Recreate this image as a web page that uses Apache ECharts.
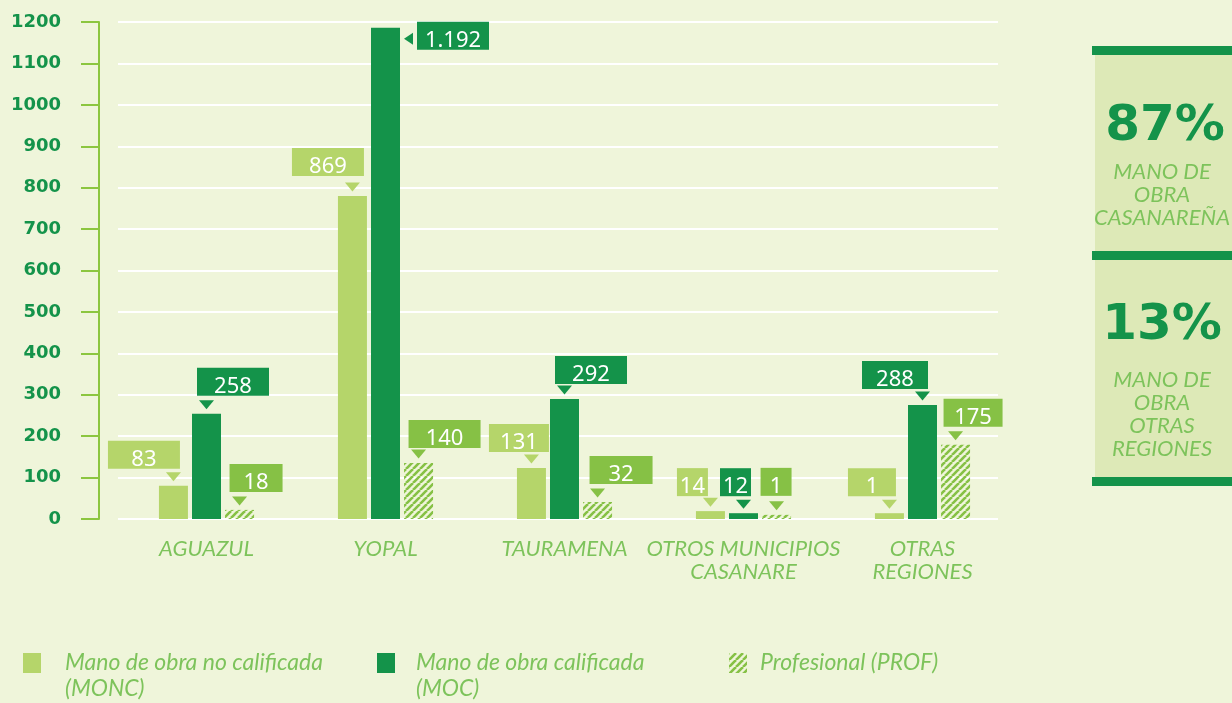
<!DOCTYPE html>
<html>
<head>
<meta charset="utf-8">
<style>
	html, body { margin: 0; padding: 0; background: #eff5da; }
	#chart { width: 1232px; height: 703px; }
</style>
<script src="https://cdn.jsdelivr.net/npm/echarts@6/dist/echarts.min.js"></script>
</head>
<body>
<div id="chart"></div>
<script>
const categories = ['AGUAZUL', 'YOPAL', 'TAURAMENA', 'OTROS MUNICIPIOS\nCASANARE', 'OTRAS\nREGIONES'];
const seriesNames = ['Mano de obra no calificada\n(MONC)', 'Mano de obra calificada\n(MOC)', 'Profesional (PROF)'];
const moncValues = [80, 780, 123, 19, 14];
const mocValues = [254, 1186, 290, 14, 275];
const profValues = [22, 135, 41, 10, 179];
const moncTags = ['83', '869', '131', '14', '1'];
const mocTags = ['258', '1.192', '292', '12', '288'];
const profTags = ['18', '140', '32', '1', '175'];
const shareValues = ['87%', '13%'];
const shareCaptions = ['MANO DE\nOBRA\nCASANAREÑA', 'MANO DE\nOBRA\nOTRAS\nREGIONES'];

/* cajas de etiqueta: ancho, desplazamiento x, separación sobre la barra */
const moncTagBox = [[72, -29.5, 17], [72, -24.5, 20], [60, -12.5, 16], [31, -18, 15], [48, -17.5, 17]];
const mocTagBox = [[72, 26.5, 18], [72, 67.5, -22], [72, 26.5, 15], [31, -8, 17], [66, -27.5, 16]];
const profTagBox = [[53, 16.5, 18], [72, 26, 15], [63, 23.5, 18], [31, -0.5, 19], [59, 17.5, 18]];

document.addEventListener('DOMContentLoaded', () => {
	const LIGHT = '#b5d56a';
	const DARK = '#14934a';
	const MID = '#86c145';
	const TEXT = '#7dc35b';

	/* rayado del profesional */
	const hatch = (() => {
		const c = document.createElement('canvas');
		c.width = c.height = 7;
		const ctx = c.getContext('2d');
		ctx.strokeStyle = MID;
		ctx.lineWidth = 2.6;
		[-7, 0, 7].forEach(o => {
			ctx.beginPath();
			ctx.moveTo(o, 7);
			ctx.lineTo(o + 7, 0);
			ctx.stroke();
		});
		return c;
	})();

	const makeSeries = (name, values, tags, boxes, fill, tagColor) => ({
		name,
		type: 'bar',
		xAxisIndex: 1,
		yAxisIndex: 1,
		barWidth: 29,
		barGap: '14%',
		itemStyle: { color: fill },
		label: {
			show: true,
			position: 'top',
			distance: 0,
			color: '#ffffff',
			backgroundColor: tagColor,
			fontFamily: 'Noto Sans',
			fontSize: 22,
			lineHeight: 19,
			padding: [9, 0, 0, 0],
			align: 'center',
			formatter: p => tags[p.dataIndex]
		},
		data: values.map((v, i) => ({
			value: v,
			label: { width: boxes[i][0], offset: [boxes[i][1], -boxes[i][2]] }
		})),
		markPoint: {
			silent: true,
			symbol: 'triangle',
			symbolSize: [15, 9],
			symbolRotate: 180,
			symbolOffset: [0, -9],
			itemStyle: { color: tagColor },
			label: { show: false },
			data: values.map((v, i) => boxes[i][2] < 0
				? { coord: [i, v], symbolRotate: 90, symbolSize: [12, 9], symbolOffset: [23, 11] }
				: { coord: [i, v] })
		}
	});

	const legendBase = {
		orient: 'horizontal',
		padding: 0,
		icon: 'rect',
		itemWidth: 18,
		itemHeight: 20,
		selectedMode: false
	};
	const legendText = pad => ({
		color: TEXT,
		fontFamily: 'Lato',
		fontStyle: 'italic',
		fontSize: 23,
		lineHeight: 26,
		padding: pad
	});
	/* línea vacía arriba para que la primera línea quede a la altura del icono */
	const twoLines = name => '\n' + name;

	const chart = echarts.init(document.getElementById('chart'));
	chart.setOption({
		animation: false,
		backgroundColor: '#eff5da',
		grid: [
			{ left: 118, right: 234, top: 22, bottom: 184 },
			{ left: 117, right: 220, top: 22, bottom: 184 }
		],
		xAxis: [
			{ gridIndex: 0, type: 'category', data: categories, show: false },
			{
				gridIndex: 1,
				type: 'category',
				data: categories,
				axisLine: { show: false },
				axisTick: { show: false },
				splitLine: { show: false },
				axisLabel: {
					interval: 0,
					margin: 18,
					color: TEXT,
					fontFamily: 'Lato',
					fontStyle: 'italic',
					fontSize: 22,
					lineHeight: 23
				}
			}
		],
		yAxis: [
			{
				gridIndex: 0,
				type: 'value',
				min: 0,
				max: 1200,
				interval: 100,
				offset: 19,
				axisLine: { show: true, lineStyle: { color: '#8cc63f', width: 2 } },
				axisTick: { show: true, length: 18, lineStyle: { color: '#8cc63f', width: 2 } },
				axisLabel: {
					margin: 38,
					color: DARK,
					fontFamily: 'DejaVu Sans',
					fontWeight: 'bold',
					fontSize: 18,
					formatter: v => String(v)
				},
				splitLine: { lineStyle: { color: '#ffffff', width: 2 } }
			},
			{ gridIndex: 1, type: 'value', min: 0, max: 1200, show: false }
		],
		legend: [
			Object.assign({ data: [seriesNames[0]], left: 23, top: 624, formatter: twoLines, textStyle: legendText([0, 0, 0, 19]) }, legendBase),
			Object.assign({ data: [seriesNames[1]], left: 377, top: 624, formatter: twoLines, textStyle: legendText([0, 0, 0, 16]) }, legendBase),
			Object.assign({ data: [seriesNames[2]], left: 729, top: 650, textStyle: legendText([0, 0, 0, 8]) }, legendBase)
		],
		series: [
			makeSeries(seriesNames[0], moncValues, moncTags, moncTagBox, LIGHT, LIGHT),
			makeSeries(seriesNames[1], mocValues, mocTags, mocTagBox, DARK, DARK),
			makeSeries(seriesNames[2], profValues, profTags, profTagBox, { image: hatch, repeat: 'repeat' }, MID)
		],
		graphic: [
			{ type: 'rect', shape: { x: 1095, y: 55, width: 137, height: 422 }, style: { fill: '#dde9b7' } },
			{ type: 'rect', shape: { x: 1092, y: 46, width: 140, height: 9 }, style: { fill: DARK } },
			{ type: 'rect', shape: { x: 1092, y: 251, width: 140, height: 9 }, style: { fill: DARK } },
			{ type: 'rect', shape: { x: 1092, y: 477, width: 140, height: 9 }, style: { fill: DARK } },
			{
				type: 'text', x: 1165, y: 127,
				style: { text: shareValues[0], align: 'center', verticalAlign: 'middle', fill: DARK, fontFamily: 'DejaVu Sans', fontWeight: 'bold', fontSize: 50 }
			},
			{
				type: 'text', x: 1162, y: 160,
				style: { text: shareCaptions[0], align: 'center', verticalAlign: 'top', fill: TEXT, fontFamily: 'Lato', fontStyle: 'italic', fontSize: 22, lineHeight: 23 }
			},
			{
				type: 'text', x: 1162, y: 326,
				style: { text: shareValues[1], align: 'center', verticalAlign: 'middle', fill: DARK, fontFamily: 'DejaVu Sans', fontWeight: 'bold', fontSize: 50 }
			},
			{
				type: 'text', x: 1162, y: 368,
				style: { text: shareCaptions[1], align: 'center', verticalAlign: 'top', fill: TEXT, fontFamily: 'Lato', fontStyle: 'italic', fontSize: 22, lineHeight: 23 }
			}
		]
	});
});
</script>
</body>
</html>
